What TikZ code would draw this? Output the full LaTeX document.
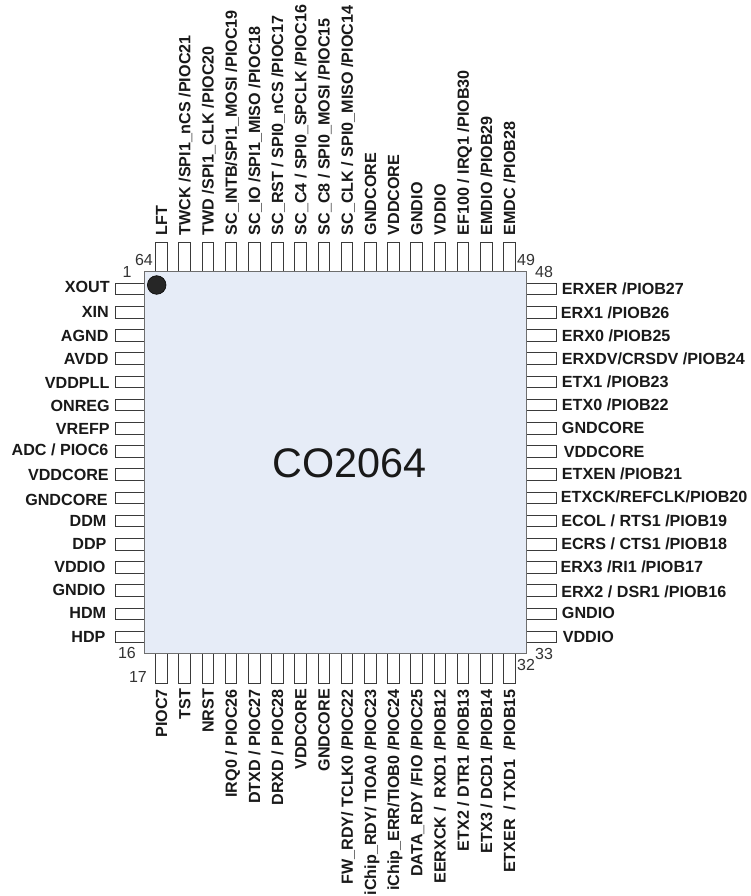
\documentclass[tikz,border=0pt]{standalone}
\usepackage{fontspec}
\setmainfont{Liberation Sans}
\usepackage{xcolor}
\definecolor{chipfill}{HTML}{E6ECF7}
\definecolor{chipline}{HTML}{6E6E6E}
\definecolor{pinline}{HTML}{3A3A3A}

\begin{document}
\begin{tikzpicture}[x=0.75pt,y=-0.75pt,
    pinv/.style={draw=pinline,fill=white,line width=0.7pt,minimum width=8.7pt,minimum height=24pt,inner sep=0pt},
    pinh/.style={draw=pinline,fill=white,line width=0.7pt,minimum width=24pt,minimum height=8.7pt,inner sep=0pt},
    pinname/.style={font=\bfseries\fontsize{12.1}{12}\selectfont,text=black!90,inner sep=0pt,text height=8.6pt,text depth=0pt},
    pinnum/.style={font=\fontsize{12}{12}\selectfont,text=black!80,inner sep=0pt}]
    \useasboundingbox (0,0) rectangle (750,896);

    % Add the pins
    \foreach \n in {1,...,16}
        \node[pinh] (pin\n) at (131,{289+(\n-1)*23.2}) {};
    \foreach \n in {17,...,32}
        \node[pinv] (pin\n) at ({161.5+(\n-17)*23.2},667) {};
    \foreach \n in {33,...,48}
        \node[pinh] (pin\n) at (540,{289+(48-\n)*23.2}) {};
    \foreach \n in {49,...,64}
        \node[pinv] (pin\n) at ({161.5+(64-\n)*23.2},258.7) {};

    % Add the chip body
    \node[draw=chipline,fill=chipfill,line width=1.1pt,minimum size=286.5pt,inner sep=0pt] (chip) at (335.7,462.7) {};
    \node[circle,draw=black,fill=black!85,minimum size=14pt,inner sep=0pt] (dot) at (156.7,285) {};
    \node[font=\fontsize{31}{31}\selectfont,text=black!90,inner sep=0pt] (title) at (349.5,463) {CO2064};

    % Left side names
    \foreach \n/\txt/\lx/\ly in {1/XOUT/110/287,2/XIN/109/312,3/AGND/108.7/336,4/AVDD/108.7/359,
        5/VDDPLL/109.7/383,6/ONREG/110/406,7/VREFP/110/429,8/{ADC / PIOC6}/108.7/450,
        9/VDDCORE/109/475,10/GNDCORE/108/500,11/DDM/106.7/521,12/DDP/106.7/544,
        13/VDDIO/105.7/567,14/GNDIO/105.7/590,15/HDM/106.4/613,16/HDP/105.7/637}
        \node[pinname,anchor=east] (name\n) at (\lx,\ly) {\txt};

    % Right side names
    \foreach \n/\txt/\lx/\ly in {48/{ERXER /PIOB27}/561.7/289,47/{ERX1 /PIOB26}/560.7/313,
        46/{ERX0 /PIOB25}/561.7/336,45/{ERXDV/CRSDV /PIOB24}/561.7/359,44/{ETX1 /PIOB23}/561.7/382,
        43/{ETX0 /PIOB22}/561.7/405,42/GNDCORE/561.7/428,41/VDDCORE/563.5/452,
        40/{ETXEN /PIOB21}/561.7/474,39/{ETXCK/REFCLK/PIOB20}/560.7/497,
        38/{ECOL / RTS1 /PIOB19}/561/521,37/{ECRS / CTS1 /PIOB18}/561/544,
        36/{ERX3 /RI1 /PIOB17}/560.3/567,35/{ERX2 / DSR1 /PIOB16}/561/592,
        34/GNDIO/561.7/613,33/VDDIO/562.5/637}
        \node[pinname,anchor=west] (name\n) at (\lx,\ly) {\txt};

    % Top names
    \foreach \n/\txt in {64/LFT,63/{TWCK /SPI1\_nCS /PIOC21},62/{TWD /SPI1\_CLK /PIOC20},
        61/{SC\_INTB/SPI1\_MOSI /PIOC19},60/{SC\_IO /SPI1\_MISO /PIOC18},
        59/{SC\_RST / SPI0\_nCS /PIOC17},58/{SC\_C4 / SPI0\_SPCLK /PIOC16},
        57/{SC\_C8 / SPI0\_MOSI /PIOC15},56/{SC\_CLK / SPI0\_MISO /PIOC14},
        55/GNDCORE,54/VDDCORE,53/GNDIO,52/VDDIO,51/{EF100 / IRQ1 /PIOB30},
        50/{EMDIO /PIOB29},49/{EMDC /PIOB28}}
        \node[pinname,rotate=90,anchor=west,xshift=5pt] (name\n) at (pin\n.north) {\txt};

    % Bottom names
    \foreach \n/\txt in {17/PIOC7,18/TST,19/NRST,20/{IRQ0 / PIOC26},21/{DTXD / PIOC27},
        22/{DRXD / PIOC28},23/VDDCORE,24/GNDCORE,25/{FW\_RDY/ TCLK0 /PIOC22},
        26/{iChip\_RDY/ TIOA0 /PIOC23},27/{iChip\_ERR/TIOB0 /PIOC24},28/{DATA\_RDY /FIO /PIOC25},
        29/{EERXCK /~ RXD1 /PIOB12},30/{ETX2 / DTR1 /PIOB13},31/{ETX3 / DCD1 /PIOB14},
        32/{ETXER~ / TXD1~ /PIOB15}}
        \node[pinname,rotate=90,anchor=east,xshift=-4pt] (name\n) at (pin\n.south) {\txt};

    % Corner numbers
    \node[pinnum] (num1) at (127,272) {1};
    \node[pinnum] (num64) at (144,260) {64};
    \node[pinnum] (num16) at (127,653) {16};
    \node[pinnum] (num17) at (138,677) {17};
    \node[pinnum] (num32) at (526,665) {32};
    \node[pinnum] (num33) at (544,654) {33};
    \node[pinnum] (num49) at (526,260) {49};
    \node[pinnum] (num48) at (544,272) {48};
\end{tikzpicture}
\end{document}
